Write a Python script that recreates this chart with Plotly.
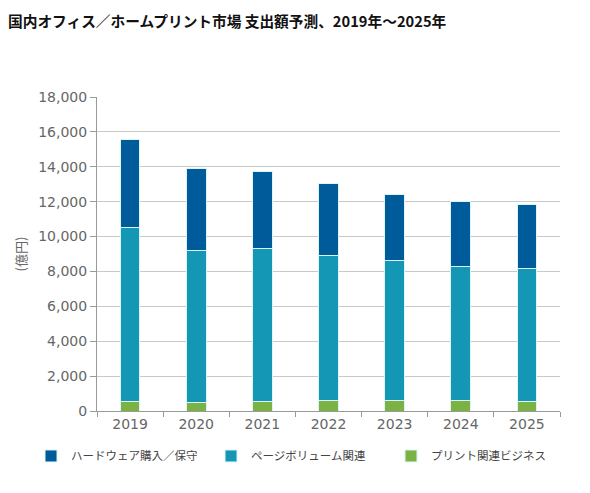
import plotly.graph_objects as go

years = ["2019", "2020", "2021", "2022", "2023", "2024", "2025"]
print_biz = [570, 510, 560, 580, 580, 580, 570]
page_volume = [9960, 8700, 8760, 8320, 8030, 7730, 7610]
hardware = [5040, 4700, 4420, 4150, 3790, 3720, 3630]

font_jp = "Noto Sans CJK JP"
font_num = "DejaVu Sans"
colors = {"hw": "#005B9B", "pv": "#1497B5", "pb": "#7BB244"}

fig = go.Figure()
series = [
    ("ハードウェア購入／保守", hardware, colors["hw"]),
    ("ページボリューム関連", page_volume, colors["pv"]),
    ("プリント関連ビジネス", print_biz, colors["pb"]),
]
# stack bottom-up: print biz, page volume, hardware
for name, vals, col in reversed(series):
    fig.add_trace(go.Bar(
        x=years, y=vals, name=name,
        marker_color=col,
        marker_line_color="#DDF4F8", marker_line_width=1,
        width=0.3,
    ))

# page has an 8px body margin, so the figure is a bit smaller than the window
fig.update_layout(
    barmode="stack",
    width=574, height=477,
    paper_bgcolor="white", plot_bgcolor="white",
    margin={"l": 89, "r": 22, "t": 89, "b": 74},
    font={"family": font_jp, "color": "#606060", "size": 13},
    title={
        "text": "<b>国内オフィス／ホームプリント市場 支出額予測、2019年～2025年</b>",
        "x": 0.0, "xanchor": "left", "y": 0.972, "yanchor": "middle",
        "font": {"size": 14.7, "color": "#111111", "family": font_jp},
    },
    legend={
        "orientation": "h", "traceorder": "reversed",
        "x": -0.1425, "xanchor": "left", "y": -0.097, "yanchor": "top",
        "entrywidth": 135, "entrywidthmode": "pixels",
        "font": {"size": 11.5, "color": "#444444"},
        "itemwidth": 30,
    },
    showlegend=True,
)
fig.update_yaxes(
    range=[0, 18000], dtick=2000, tickformat=",d",
    tickfont={"family": font_num, "size": 14, "color": "#666666"},
    showgrid=True, gridcolor="#C8C8C8", gridwidth=1,
    showline=True, linecolor="#9A9A9A", linewidth=1,
    ticks="outside", ticklen=6, tickcolor="#9A9A9A",
    title={"text": "(億円)", "standoff": 8, "font": {"size": 13, "color": "#666666"}},
    zeroline=False,
)
fig.update_xaxes(
    showline=True, linecolor="#9A9A9A", linewidth=1,
    ticks="outside", ticklen=5, tickcolor="#9A9A9A",
    tickson="boundaries",
    tickfont={"family": font_num, "size": 14, "color": "#666666"},
)

fig.write_html("out.html")
